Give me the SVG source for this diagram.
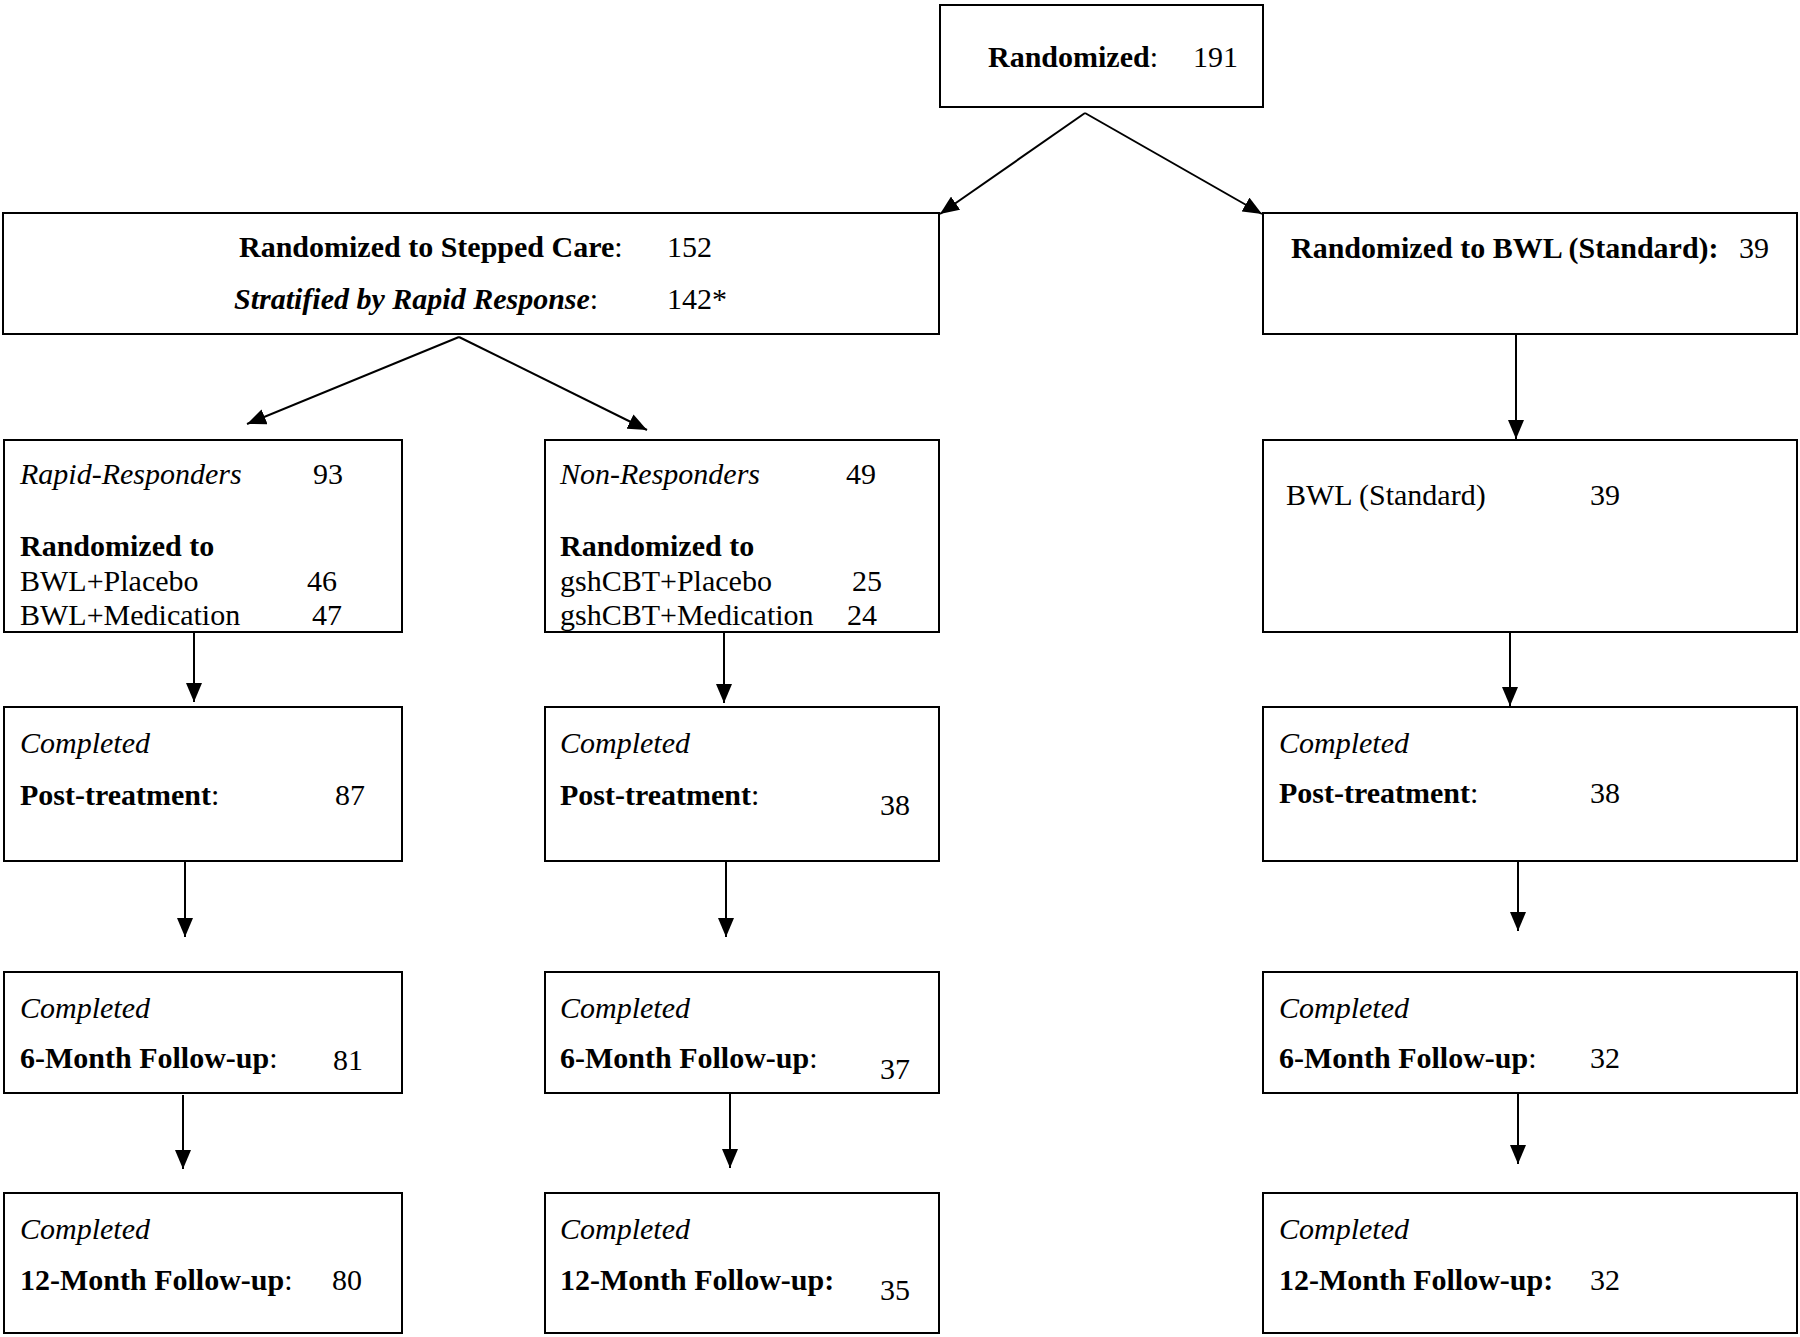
<svg xmlns="http://www.w3.org/2000/svg" width="1800" height="1337" viewBox="0 0 1800 1337">
<style>
  rect.box { fill: #ffffff; stroke: #000000; stroke-width: 2; }
  text { font-family: "Liberation Serif", "Times New Roman", serif; font-size: 30px; fill: #000000; }
  .b { font-weight: bold; }
  .i { font-style: italic; }
  .conn line { stroke: #000000; stroke-width: 2; marker-end: url(#arrow); }
</style>
<defs>
  <marker id="arrow" viewBox="0 0 19 16" refX="19" refY="8" markerWidth="19" markerHeight="16" markerUnits="userSpaceOnUse" orient="auto">
    <path d="M0,0 L19,8 L0,16 z" fill="#000000"/>
  </marker>
</defs>
<rect width="1800" height="1337" fill="#ffffff"/>

<g id="randomized">
  <rect class="box" x="940" y="5" width="323" height="102"/>
  <text x="988" y="67"><tspan class="b">Randomized</tspan>:</text>
  <text x="1193" y="67">191</text>
</g>

<g id="stepped-care">
  <rect class="box" x="3" y="213" width="936" height="121"/>
  <text x="239" y="257"><tspan class="b">Randomized to Stepped Care</tspan>:</text>
  <text x="667" y="257">152</text>
  <text x="234" y="309"><tspan class="b i">Stratified by Rapid Response</tspan>:</text>
  <text x="667" y="309">142*</text>
</g>

<g id="bwl-randomized">
  <rect class="box" x="1263" y="213" width="534" height="121"/>
  <text x="1291" y="258" class="b">Randomized to BWL (Standard):</text>
  <text x="1739" y="258">39</text>
</g>

<g id="rapid-responders">
  <rect class="box" x="4" y="440" width="398" height="192"/>
  <text x="20" y="484" class="i">Rapid-Responders</text>
  <text x="313" y="484">93</text>
  <text x="20" y="556" class="b">Randomized to</text>
  <text x="20" y="591">BWL+Placebo</text>
  <text x="307" y="591">46</text>
  <text x="20" y="625">BWL+Medication</text>
  <text x="312" y="625">47</text>
</g>

<g id="non-responders">
  <rect class="box" x="545" y="440" width="394" height="192"/>
  <text x="560" y="484" class="i">Non-Responders</text>
  <text x="846" y="484">49</text>
  <text x="560" y="556" class="b">Randomized to</text>
  <text x="560" y="591">gshCBT+Placebo</text>
  <text x="852" y="591">25</text>
  <text x="560" y="625">gshCBT+Medication</text>
  <text x="847" y="625">24</text>
</g>

<g id="bwl-standard">
  <rect class="box" x="1263" y="440" width="534" height="192"/>
  <text x="1286" y="505">BWL (Standard)</text>
  <text x="1590" y="505">39</text>
</g>

<g id="rapid-post">
  <rect class="box" x="4" y="707" width="398" height="154"/>
  <text x="20" y="753" class="i">Completed</text>
  <text x="20" y="805"><tspan class="b">Post-treatment</tspan>:</text>
  <text x="335" y="805">87</text>
</g>

<g id="non-post">
  <rect class="box" x="545" y="707" width="394" height="154"/>
  <text x="560" y="753" class="i">Completed</text>
  <text x="560" y="805"><tspan class="b">Post-treatment</tspan>:</text>
  <text x="880" y="815">38</text>
</g>

<g id="bwl-post">
  <rect class="box" x="1263" y="707" width="534" height="154"/>
  <text x="1279" y="753" class="i">Completed</text>
  <text x="1279" y="803"><tspan class="b">Post-treatment</tspan>:</text>
  <text x="1590" y="803">38</text>
</g>

<g id="rapid-6m">
  <rect class="box" x="4" y="972" width="398" height="121"/>
  <text x="20" y="1018" class="i">Completed</text>
  <text x="20" y="1068"><tspan class="b">6-Month Follow-up</tspan>:</text>
  <text x="333" y="1070">81</text>
</g>

<g id="non-6m">
  <rect class="box" x="545" y="972" width="394" height="121"/>
  <text x="560" y="1018" class="i">Completed</text>
  <text x="560" y="1068"><tspan class="b">6-Month Follow-up</tspan>:</text>
  <text x="880" y="1079">37</text>
</g>

<g id="bwl-6m">
  <rect class="box" x="1263" y="972" width="534" height="121"/>
  <text x="1279" y="1018" class="i">Completed</text>
  <text x="1279" y="1068"><tspan class="b">6-Month Follow-up</tspan>:</text>
  <text x="1590" y="1068">32</text>
</g>

<g id="rapid-12m">
  <rect class="box" x="4" y="1193" width="398" height="140"/>
  <text x="20" y="1239" class="i">Completed</text>
  <text x="20" y="1290"><tspan class="b">12-Month Follow-up</tspan>:</text>
  <text x="332" y="1290">80</text>
</g>

<g id="non-12m">
  <rect class="box" x="545" y="1193" width="394" height="140"/>
  <text x="560" y="1239" class="i">Completed</text>
  <text x="560" y="1290" class="b">12-Month Follow-up:</text>
  <text x="880" y="1300">35</text>
</g>

<g id="bwl-12m">
  <rect class="box" x="1263" y="1193" width="534" height="140"/>
  <text x="1279" y="1239" class="i">Completed</text>
  <text x="1279" y="1290" class="b">12-Month Follow-up:</text>
  <text x="1590" y="1290">32</text>
</g>

<g id="connectors" class="conn">
  <line x1="1085" y1="113" x2="940" y2="214"/>
  <line x1="1085" y1="113" x2="1262" y2="214"/>
  <line x1="459" y1="337" x2="247" y2="424"/>
  <line x1="459" y1="337" x2="647" y2="430"/>
  <line x1="1516" y1="334" x2="1516" y2="439"/>
  <line x1="194" y1="632" x2="194" y2="702"/>
  <line x1="724" y1="632" x2="724" y2="703"/>
  <line x1="1510" y1="632" x2="1510" y2="706"/>
  <line x1="185" y1="861" x2="185" y2="937"/>
  <line x1="726" y1="861" x2="726" y2="937"/>
  <line x1="1518" y1="861" x2="1518" y2="931"/>
  <line x1="183" y1="1095" x2="183" y2="1169"/>
  <line x1="730" y1="1093" x2="730" y2="1168"/>
  <line x1="1518" y1="1093" x2="1518" y2="1164"/>
</g>
</svg>
